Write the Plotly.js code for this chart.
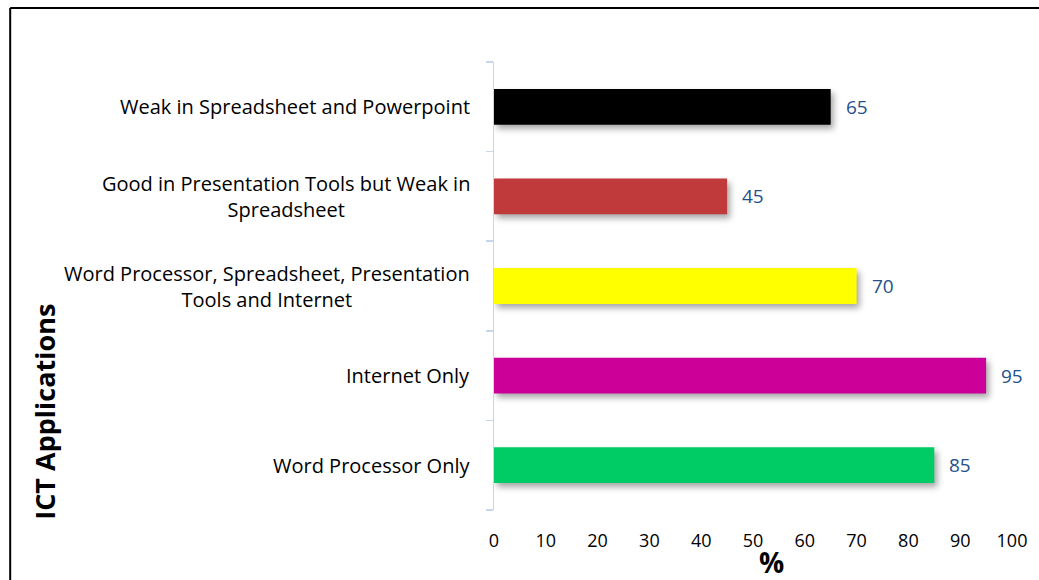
<!DOCTYPE html>
<html>
<head>
<meta charset="utf-8">
<script src="https://cdn.plot.ly/plotly-3.0.1.min.js"></script>
<style>
  html, body { margin: 0; padding: 0; background: #fff; }
  #chart { width: 1039px; height: 580px; }
  .trace.bars path { filter: drop-shadow(3px 4px 3px rgba(0,0,0,0.35)); }
</style>
</head>
<body>
<div id="chart"></div>
<script>
const categories = [
  "Word Processor Only",
  "Internet Only",
  "Word Processor, Spreadsheet, Presentation<br>Tools and Internet",
  "Good in Presentation Tools but Weak in<br>Spreadsheet",
  "Weak in Spreadsheet and Powerpoint"
];
const values = [85, 95, 70, 45, 65];
const barColors = ["#00cc66", "#cc0099", "#ffff00", "#c0393b", "#000000"];
const xTicks = [0, 10, 20, 30, 40, 50, 60, 70, 80, 90, 100];

const fontFam = "'Open Sans', Lato, sans-serif";

const trace = {
  type: "bar",
  orientation: "h",
  y: categories,
  x: values,
  width: 0.4,
  marker: { color: barColors, line: { width: 0 } },
  hoverinfo: "skip"
};

const annotations = [];
categories.forEach((c, i) => {
  annotations.push({
    xref: "paper", yref: "y", x: 0, y: c, xanchor: "right", yanchor: "middle",
    xshift: -22, align: "center", showarrow: false, text: c,
    font: { family: fontFam, size: 20, color: "#000" }
  });
  annotations.push({
    xref: "x", yref: "y", x: values[i], y: c, xanchor: "left", yanchor: "middle",
    xshift: 13, showarrow: false, text: String(values[i]),
    font: { family: fontFam, size: 19, color: "#24508c" }
  });
});
annotations.push({
  xref: "paper", yref: "paper", x: -0.867, y: 0.219, xanchor: "center", yanchor: "middle",
  textangle: -90, showarrow: false, text: "<b>ICT Applications</b>",
  font: { family: fontFam, size: 27, color: "#000" }
});
annotations.push({
  xref: "paper", yref: "paper", x: 0.535, y: -0.117, xanchor: "center", yanchor: "middle",
  showarrow: false, text: "<b>%</b>",
  font: { family: fontFam, size: 28, color: "#000" }
});

const layout = {
  width: 1039, height: 580,
  margin: { l: 494, r: 27, t: 62, b: 70, pad: 0 },
  paper_bgcolor: "#fff", plot_bgcolor: "#fff",
  showlegend: false,
  xaxis: {
    range: [0, 100], tickvals: xTicks, ticktext: xTicks.map(String),
    showgrid: false, zeroline: false, showline: false, ticks: "",
    ticklabelstandoff: 18,
    tickfont: { family: fontFam, size: 18, color: "#000" }, fixedrange: true
  },
  yaxis: {
    type: "category", categoryarray: categories, range: [-0.5, 4.5],
    showticklabels: false, showgrid: false, zeroline: false,
    showline: true, linecolor: "#c6d6ec", linewidth: 1.5,
    ticks: "outside", tickson: "boundaries", ticklen: 7, tickcolor: "#c6d6ec", tickwidth: 1.5,
    fixedrange: true
  },
  annotations: annotations,
  shapes: [
    { type: "line", xref: "paper", yref: "paper", x0: -0.934, x1: 1.3, y0: 1.1205, y1: 1.1205,
      line: { color: "#000", width: 2 }, layer: "below" },
    { type: "line", xref: "paper", yref: "paper", x0: -0.934, x1: -0.934, y0: -0.3, y1: 1.1205,
      line: { color: "#000", width: 2 }, layer: "below" }
  ]
};

Plotly.newPlot("chart", [trace], layout, { displayModeBar: false, staticPlot: true });
</script>
</body>
</html>
